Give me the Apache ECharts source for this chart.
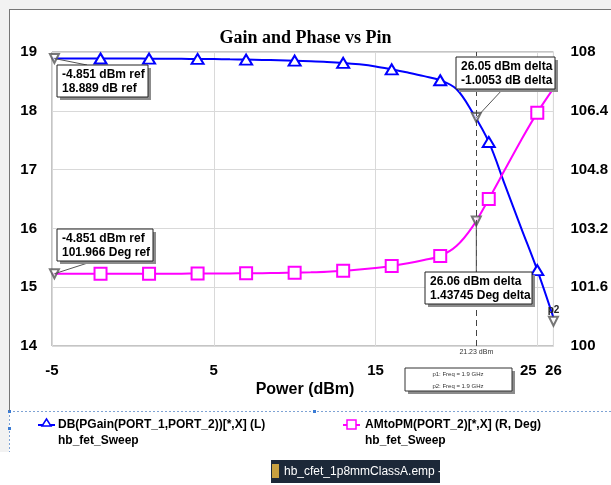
<!DOCTYPE html>
<html>
<head>
<meta charset="utf-8">
<script src="https://cdn.jsdelivr.net/npm/echarts@6/dist/echarts.min.js"></script>
<style>
html,body{margin:0;padding:0;background:#fff;}
#c{width:611px;height:485px;}
</style>
</head>
<body>
<div id="c"></div>
<script>
// ---- data ----
const powerDbm = [-5,-4,-3,-2,-1,0,1,2,3,4,5,6,7,8,9,10,11,12,13,14,15,16,17,18,19,20,21,22,23,24,25,26];
const gainDb = [18.889,18.889,18.889,18.889,18.888,18.888,18.887,18.886,18.884,18.882,18.879,18.875,18.871,18.866,18.860,18.853,18.844,18.832,18.815,18.790,18.755,18.705,18.650,18.590,18.520,18.370,17.970,17.470,16.740,16.010,15.290,14.480];
const amPmDeg = [101.966,101.966,101.966,101.966,101.966,101.967,101.967,101.968,101.969,101.970,101.972,101.975,101.978,101.982,101.988,101.995,102.005,102.020,102.045,102.080,102.125,102.180,102.250,102.340,102.450,102.720,103.250,104.000,104.800,105.600,106.350,107.010];
const symbolPowers = [-2,1,4,7,10,13,16,19,22,25];
const xTicks = [-5,5,15,25];
const xEndTick = 26;
const leftTicks = [14,15,16,17,18,19];
const rightTicks = [100,101.6,103.2,104.8,106.4,108];
const gainMarkers = [[-4.851,18.889],[21.23,17.884]];
const phaseMarkers = [[-4.851,101.966],[21.23,103.403]];
const endMarker = [26,14.42];
const deltaX = 21.23;
const seriesNames = ['DB(PGain(PORT_1,PORT_2))[*,X] (L)','AMtoPM(PORT_2)[*,X] (R, Deg)'];
const sourceName = 'hb_fet_Sweep';
const boxTexts = [
  ['-4.851 dBm ref','18.889 dB ref'],
  ['26.05 dBm delta','-1.0053 dB delta'],
  ['-4.851 dBm ref','101.966 Deg ref'],
  ['26.06 dBm delta','1.43745 Deg delta']
];

const BLUE = '#0000ff', MAG = '#ff00ff';
const FONT = 'Liberation Sans';

function lineData(ys){
  return powerDbm.map((x,i)=> symbolPowers.indexOf(x) >= 0 ? [x, ys[i]] : {value:[x, ys[i]], symbol:'none'});
}
const lblStyle = {fontFamily:FONT, fontWeight:'bold', fontSize:15, color:'#000'};

const chart = echarts.init(document.getElementById('c'), null, {renderer:'canvas'});
chart.setOption({
  animation:false,
  backgroundColor:'#ffffff',
  title:{text:'Gain and Phase vs Pin', left:'center', top:24,
    textStyle:{fontFamily:'Liberation Serif', fontWeight:'bold', fontSize:18, color:'#000'}},
  grid:{left:52, right:53, top:52, bottom:139, show:true, borderColor:'#8a8a8a', borderWidth:1},
  xAxis:[
    {type:'value', min:-5, max:26, interval:10,
     axisLine:{show:false}, axisTick:{show:false},
     splitLine:{show:true, lineStyle:{color:'#d9d9d9', width:1}},
     axisLabel:Object.assign({margin:17, showMinLabel:true,
       formatter:v=>{ const r = Math.round(v); if (r === 25) return '{s|25}'; return xTicks.indexOf(r) >= 0 ? String(r) : ''; },
       rich:{s:Object.assign({padding:[0,18,0,0]}, lblStyle)}}, lblStyle)},
    {type:'value', position:'bottom', min:-5, max:26, interval:31,
     axisLine:{show:false}, axisTick:{show:false}, splitLine:{show:false},
     axisLabel:Object.assign({margin:17, showMaxLabel:true,
       formatter:v=> Math.round(v) === xEndTick ? String(xEndTick) : ''}, lblStyle)}
  ],
  yAxis:[
    {type:'value', min:14, max:19, interval:1, position:'left',
     axisLine:{show:false}, axisTick:{show:false},
     splitLine:{show:true, lineStyle:{color:'#d9d9d9', width:1}},
     axisLabel:Object.assign({margin:15,
       formatter:v=> leftTicks.indexOf(Math.round(v)) >= 0 ? String(Math.round(v)) : ''}, lblStyle)},
    {type:'value', min:100, max:108, interval:0.8, position:'right',
     axisLine:{show:false}, axisTick:{show:false}, splitLine:{show:false},
     axisLabel:Object.assign({margin:17,
       formatter:v=>{ const r = Math.round(v*10)/10; return rightTicks.indexOf(r) >= 0 ? String(r) : ''; }}, lblStyle)}
  ],
  series:[
    {type:'line', name:seriesNames[0], xAxisIndex:0, yAxisIndex:0, data:lineData(gainDb),
     smooth:0.35, showAllSymbol:true,
     symbol:'emptyTriangle', symbolSize:[12,10],
     lineStyle:{color:BLUE, width:2}, itemStyle:{color:BLUE, borderColor:BLUE, borderWidth:2}, z:3,
     markLine:{silent:true, symbol:'none', data:[{xAxis:deltaX}],
       lineStyle:{color:'#444', type:[6,4], width:1},
       label:{show:true, position:'start', formatter:'21.23 dBm', fontSize:7, color:'#333', fontFamily:FONT, distance:3}}},
    {type:'line', name:seriesNames[1], xAxisIndex:0, yAxisIndex:1, data:lineData(amPmDeg),
     smooth:0.35, showAllSymbol:true,
     symbol:'emptyRect', symbolSize:[12,12],
     lineStyle:{color:MAG, width:2}, itemStyle:{color:MAG, borderColor:MAG, borderWidth:2}, z:3},
    {type:'scatter', xAxisIndex:0, yAxisIndex:0, data:gainMarkers.concat([endMarker]), symbol:'emptyTriangle', symbolRotate:180, symbolSize:9,
     itemStyle:{color:'#555', borderColor:'#555', borderWidth:1}, z:4},
    {type:'scatter', xAxisIndex:0, yAxisIndex:1, data:phaseMarkers, symbol:'emptyTriangle', symbolRotate:180, symbolSize:9,
     itemStyle:{color:'#555', borderColor:'#555', borderWidth:1}, z:4}
  ]
});

function px(pt, yi){ return chart.convertToPixel({xAxisIndex:0, yAxisIndex:yi}, pt); }
const g1 = px(gainMarkers[0],0), g2 = px(gainMarkers[1],0);
const h1 = px(phaseMarkers[0],1), h2 = px(phaseMarkers[1],1);
const e2 = px(endMarker,0);

function box(x,y,w,h,lines){
  return [
    {type:'rect', shape:{x:x+3,y:y+3,width:w,height:h}, style:{fill:'#8c8c8c'}, z:10},
    {type:'rect', shape:{x:x,y:y,width:w,height:h}, style:{fill:'#fff', stroke:'#222', lineWidth:1}, z:11},
    {type:'text', x:x+5, y:y+3, style:{text:lines.join('\n'), font:'bold 12px '+FONT, fill:'#000', lineHeight:14}, z:12}
  ];
}
function seg(a,b,color){ return {type:'line', shape:{x1:a[0],y1:a[1],x2:b[0],y2:b[1]}, style:{stroke:color||'#555', lineWidth:1}, z:9}; }

const gr = [];
// page frame
gr.push({type:'rect', shape:{x:0,y:0,width:611,height:9}, style:{fill:'#f2f2f2'}, z:0});
gr.push({type:'rect', shape:{x:0,y:0,width:9,height:452}, style:{fill:'#f2f2f2'}, z:0});
gr.push(seg([9,9.5],[611,9.5],'#777'));
gr.push(seg([9.5,9],[9.5,411],'#777'));
gr.push({type:'line', shape:{x1:9,y1:411.5,x2:611,y2:411.5}, style:{stroke:'#7fa3d4', lineWidth:1, lineDash:[2,2]}, z:1});
gr.push({type:'line', shape:{x1:9.5,y1:411,x2:9.5,y2:452}, style:{stroke:'#7fa3d4', lineWidth:1, lineDash:[2,2]}, z:1});
[[8,410],[313,410],[8,427]].forEach(p=>gr.push({type:'rect', shape:{x:p[0],y:p[1],width:3,height:3}, style:{fill:'#3a7bd5'}, z:2}));

// leader lines
gr.push(seg(g1,[87,65]));
gr.push(seg(g2,[503,89]));
gr.push(seg(h1,[97,260]));
gr.push(seg(h2,[h2[0],273]));
// annotation boxes
gr.push(...box(57,65,91,32,boxTexts[0]));
gr.push(...box(456,57,99,32,boxTexts[1]));
gr.push(...box(57,229,96,32,boxTexts[2]));
gr.push(...box(425,272,107,32,boxTexts[3]));
// small freq box
gr.push({type:'rect', shape:{x:408,y:371,width:107,height:23}, style:{fill:'#8c8c8c'}, z:10});
gr.push({type:'rect', shape:{x:405,y:368,width:107,height:23}, style:{fill:'#fff', stroke:'#333', lineWidth:1}, z:11});
gr.push({type:'text', x:458, y:374, style:{text:'p1: Freq = 1.9 GHz', font:'6px '+FONT, fill:'#333', align:'center', verticalAlign:'middle'}, z:12});
gr.push({type:'text', x:458, y:386, style:{text:'p2: Freq = 1.9 GHz', font:'6px '+FONT, fill:'#333', align:'center', verticalAlign:'middle'}, z:12});
// p2 label
gr.push({type:'text', x:e2[0], y:e2[1]-6, style:{text:'p2', font:'bold 10px '+FONT, fill:'#222', align:'center', verticalAlign:'bottom'}, z:12});
// x axis name
gr.push({type:'text', x:305, y:390, style:{text:'Power (dBm)', font:'bold 16px '+FONT, fill:'#000', align:'center', verticalAlign:'middle'}, z:5});
// legend
gr.push({type:'line', shape:{x1:38,y1:425,x2:55,y2:425}, style:{stroke:BLUE, lineWidth:2}, z:5});
gr.push({type:'polygon', shape:{points:[[46.5,419],[51,426],[42,426]]}, style:{fill:'#fff', stroke:BLUE, lineWidth:1.5}, z:6});
gr.push({type:'text', x:58, y:425, style:{text:seriesNames[0], font:'bold 12px '+FONT, fill:'#000', verticalAlign:'middle'}, z:5});
gr.push({type:'text', x:58, y:441, style:{text:sourceName, font:'bold 12px '+FONT, fill:'#000', verticalAlign:'middle'}, z:5});
gr.push({type:'line', shape:{x1:343,y1:425,x2:360,y2:425}, style:{stroke:MAG, lineWidth:2}, z:5});
gr.push({type:'rect', shape:{x:347,y:420,width:9,height:9}, style:{fill:'#fff', stroke:MAG, lineWidth:1.5}, z:6});
gr.push({type:'text', x:365, y:425, style:{text:seriesNames[1], font:'bold 12px '+FONT, fill:'#000', verticalAlign:'middle'}, z:5});
gr.push({type:'text', x:365, y:441, style:{text:sourceName, font:'bold 12px '+FONT, fill:'#000', verticalAlign:'middle'}, z:5});
// taskbar button
gr.push({type:'rect', shape:{x:271,y:460,width:169,height:23}, style:{fill:'#1c2838'}, z:5});
gr.push({type:'rect', shape:{x:272,y:464,width:7,height:14}, style:{fill:'#c8a040'}, z:6});
gr.push({type:'text', x:284, y:471.5, style:{text:'hb_cfet_1p8mmClassA.emp -', font:'12px '+FONT, fill:'#fff', verticalAlign:'middle'}, z:6});

chart.setOption({graphic:{elements:gr}});
</script>
</body>
</html>
